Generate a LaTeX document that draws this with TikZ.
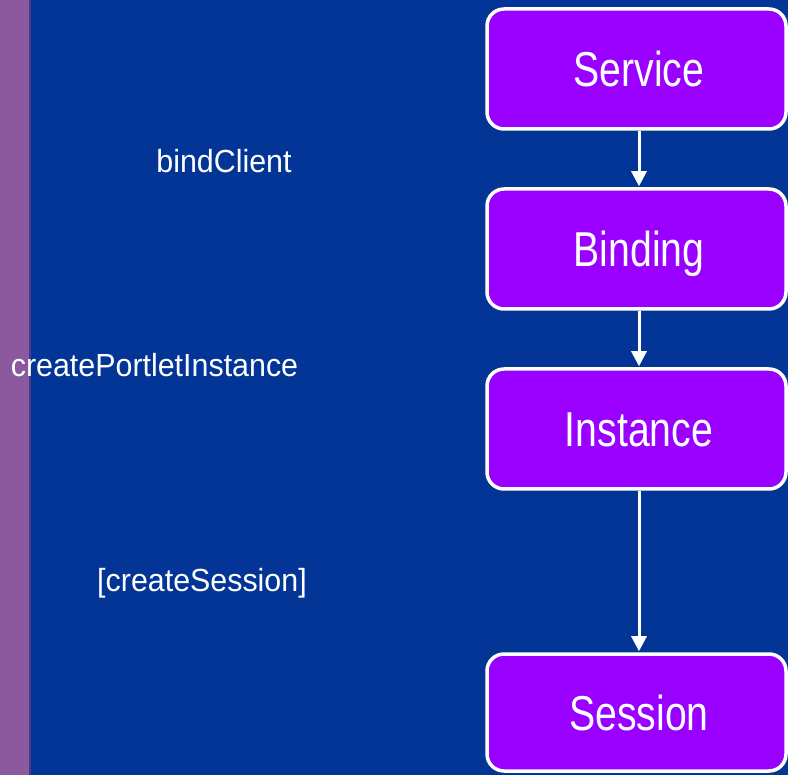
\documentclass[tikz,border=0pt]{standalone}
\usepackage{fontspec}
\setmainfont{Liberation Sans}
\newfontfamily\boxfont[FakeStretch=0.8]{Liberation Sans}
\newfontfamily\labelfont[FakeStretch=0.95]{Liberation Sans}
\usetikzlibrary{arrows.meta}
\definecolor{bgblue}{RGB}{3,53,150}
\definecolor{sidebar}{RGB}{139,89,158}
\definecolor{sideedge}{RGB}{70,60,140}
\definecolor{boxviolet}{RGB}{153,0,255}
\newcommand{\statetext}[1]{\hspace*{5pt}#1}
\tikzset{
  statebox/.style={draw=white, line width=3.5pt, fill=boxviolet, rounded corners=17pt,
    minimum width=299pt, minimum height=120pt, inner sep=0pt,
    text height=35pt, text depth=0pt,
    text=white, font=\boxfont\fontsize{49}{56}\selectfont},
  calllabel/.style={text=white, anchor=base, inner sep=0pt,
    font=\labelfont\fontsize{32}{38}\selectfont},
  flow/.style={draw=white, line width=3pt, -{Triangle[length=15pt,width=15pt]}, shorten >=1pt}
}
\begin{document}
\begin{tikzpicture}[x=1pt,y=-1pt]
  \useasboundingbox (0,0) rectangle (788,775);
  % backdrop with side bar
  \fill[bgblue] (0,0) rectangle (788,775);
  \fill[sidebar] (0,0) rectangle (29,775);
  \fill[sideedge] (29,0) rectangle (31,775);

  % lifecycle states
  \node[statebox] (service) at (636.5,69)  {\statetext{Service}};
  \node[statebox] (binding) at (636.5,249) {\statetext{Binding}};
  \node[statebox] (instance) at (636.5,429) {\statetext{Instance}};
  \node[statebox, minimum height=117pt] (session) at (636.5,712.5) {\statetext{Session}};

  % transitions
  \draw[flow] (service.south -| 639,0) -- (binding.north -| 639,0);
  \draw[flow] (binding.south -| 639,0) -- (instance.north -| 639,0);
  \draw[flow] (instance.south -| 639,0) -- (session.north -| 639,0);

  % operations that cause each transition
  \node[calllabel] (bind) at (224,173) {bindClient};
  \node[calllabel] (create) at (154.5,377) {createPortletInstance};
  \node[calllabel] (sess) at (202,592) {[createSession]};
\end{tikzpicture}
\end{document}
